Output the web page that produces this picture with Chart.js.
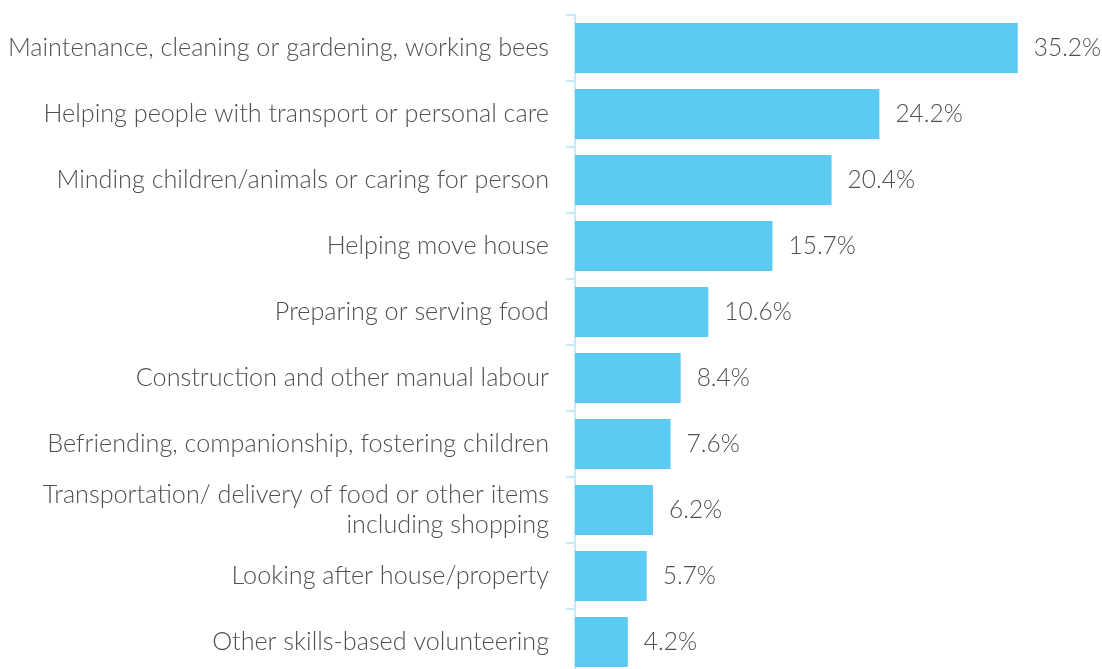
<!DOCTYPE html>
<html>
<head>
<meta charset="utf-8">
<script src="https://cdn.jsdelivr.net/npm/chart.js@4/dist/chart.umd.min.js"></script>
<style>
    html, body { margin: 0; padding: 0; background: #fff; overflow: hidden; }
    #wrap { width: 1102px; height: 669px; overflow: hidden; }
</style>
</head>
<body>
<div id="wrap"><canvas id="barChart" width="1102" height="680"></canvas></div>
<script>
// Activity categories (top to bottom)
const categories = [
    "Maintenance, cleaning or gardening, working bees",
    "Helping people with transport or personal care",
    "Minding children/animals or caring for person",
    "Helping move house",
    "Preparing or serving food",
    "Construction and other manual labour",
    "Befriending, companionship, fostering children",
    ["Transportation/ delivery of food or other items", "including shopping"],
    "Looking after house/property",
    "Other skills-based volunteering"
];

// Share of volunteers (%)
const shares = [35.2, 24.2, 20.4, 15.7, 10.6, 8.4, 7.6, 6.2, 5.7, 4.2];

const barColor = '#5BCBF4';
const axisColor = '#C6E8F7';
const textColor = '#505050';
const fontFamily = 'Lato, "Open Sans", sans-serif';

// Draw the percentage next to each bar
const valueLabels = {
    id: 'valueLabels',
    afterDatasetsDraw(chart) {
        const ctx = chart.ctx;
        const meta = chart.getDatasetMeta(0);
        ctx.save();
        ctx.font = '300 24.5px ' + fontFamily;
        ctx.fillStyle = textColor;
        ctx.textAlign = 'left';
        ctx.textBaseline = 'middle';
        meta.data.forEach((bar, i) => {
            ctx.fillText(shares[i].toFixed(1) + '%', bar.x + 16, bar.y);
        });
        ctx.restore();
    }
};

const ctx = document.getElementById('barChart').getContext('2d');
new Chart(ctx, {
    type: 'bar',
    data: {
        labels: categories,
        datasets: [{
            data: shares,
            backgroundColor: barColor,
            borderWidth: 0,
            categoryPercentage: 1,
            barPercentage: 0.76
        }]
    },
    options: {
        indexAxis: 'y',
        responsive: false,
        devicePixelRatio: 1,
        animation: false,
        layout: { padding: { top: 15, bottom: 5, left: 0, right: 0 } },
        plugins: {
            legend: { display: false },
            tooltip: { enabled: false }
        },
        scales: {
            x: {
                display: false,
                min: 0,
                max: 41.9
            },
            y: {
                afterFit(scale) {
                    scale.width = 575;
                    scale.paddingTop = 0;
                    scale.paddingBottom = 0;
                },
                border: { display: true, color: axisColor, width: 2 },
                grid: {
                    display: true,
                    drawOnChartArea: false,
                    drawTicks: true,
                    tickLength: 9,
                    color: axisColor,
                    lineWidth: 2,
                    offset: true
                },
                ticks: {
                    padding: 17,
                    color: textColor,
                    font: { family: fontFamily, size: 25.2, weight: 300, lineHeight: 1.17 }
                }
            }
        }
    },
    plugins: [valueLabels]
});
</script>
</body>
</html>
